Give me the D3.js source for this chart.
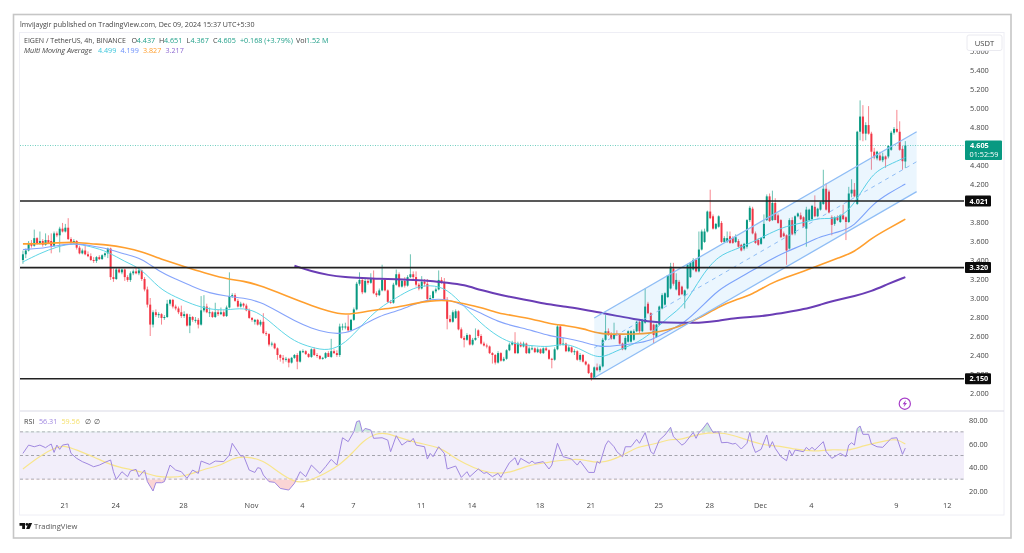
<!DOCTYPE html>
<html>
<head>
<meta charset="utf-8">
<title>EIGEN / TetherUS</title>
<script src="https://cdn.jsdelivr.net/npm/d3@7"></script>
<style>
    html, body { margin: 0; padding: 0; background: #fff; }
    svg { display: block; filter: blur(0.45px); font-family: "Open Sans", sans-serif; }
    .tick line, .domain { display: none; }
    .axis text { font-family: "Open Sans", sans-serif; font-size: 7.4px; fill: #444; }
</style>
</head>
<body>
<div id="chart"></div>
<script>
// 4h candles, one value per bar, first bar is Oct 18 13:30 (UTC+5:30)
var opens = [
    3.40,3.46,3.50,3.58,3.55,3.63,3.57,3.60,3.56,3.61,
    3.60,3.55,3.68,3.66,3.73,3.70,3.74,3.62,3.58,3.60,
    3.53,3.47,3.50,3.46,3.44,3.40,3.39,3.43,3.41,3.45,
    3.47,3.52,3.22,3.20,3.30,3.27,3.30,3.22,3.19,3.26,
    3.28,3.26,3.29,3.20,3.09,2.93,2.72,2.85,2.82,2.83,
    2.79,2.80,2.94,2.98,2.91,2.89,2.85,2.81,2.83,2.71,
    2.80,2.77,2.77,2.72,2.87,2.91,2.85,2.85,2.80,2.85,
    2.83,2.85,2.81,2.90,3.02,3.03,2.97,2.91,2.94,2.92,
    2.87,2.79,2.75,2.77,2.72,2.75,2.63,2.62,2.51,2.52,
    2.47,2.40,2.37,2.35,2.36,2.32,2.37,2.40,2.33,2.44,
    2.44,2.41,2.38,2.46,2.40,2.39,2.36,2.37,2.42,2.38,
    2.44,2.42,2.40,2.70,2.70,2.70,2.66,2.77,2.88,3.15,
    3.19,3.06,3.18,3.16,3.20,3.05,3.03,3.08,3.19,3.08,
    2.96,2.95,3.14,3.25,3.12,3.18,3.13,3.22,3.25,3.22,
    3.14,3.10,3.17,3.15,2.99,3.00,3.07,3.09,3.19,3.16,
    2.98,2.78,2.75,2.79,2.86,2.67,2.58,2.56,2.61,2.51,
    2.56,2.66,2.60,2.52,2.50,2.49,2.42,2.40,2.32,2.42,
    2.34,2.36,2.45,2.51,2.53,2.42,2.52,2.49,2.52,2.42,
    2.47,2.47,2.43,2.46,2.42,2.47,2.45,2.36,2.35,2.46,
    2.70,2.51,2.52,2.44,2.48,2.43,2.44,2.35,2.40,2.33,
    2.30,2.21,2.16,2.27,2.24,2.28,2.56,2.65,2.61,2.57,
    2.62,2.61,2.52,2.46,2.54,2.54,2.56,2.65,2.75,2.65,
    2.74,2.94,2.84,2.72,2.59,2.72,2.89,2.93,3.01,3.10,
    3.31,3.09,3.17,3.12,3.02,3.10,3.22,3.30,3.40,3.28,
    3.51,3.59,3.70,3.91,3.86,3.73,3.75,3.79,3.59,3.59,
    3.65,3.63,3.59,3.60,3.56,3.52,3.54,3.82,3.94,3.68,
    3.61,3.57,3.63,3.82,4.07,3.82,4.00,3.87,3.82,3.68,
    3.66,3.52,3.82,3.68,3.86,3.87,3.85,3.73,3.82,3.83,
    3.96,3.86,3.93,3.99,4.15,4.12,3.85,3.78,3.85,3.80,
    3.87,3.85,3.80,4.10,4.14,3.99,4.75,4.91,4.73,4.82,
    4.73,4.54,4.47,4.50,4.45,4.49,4.49,4.56,4.74,4.78,
    4.75,4.57,4.437
];
var highs = [
    3.50,3.52,3.60,3.61,3.72,3.64,3.70,3.62,3.68,3.66,
    3.68,3.70,3.70,3.75,3.79,3.78,3.84,3.64,3.62,3.61,
    3.55,3.52,3.55,3.49,3.47,3.43,3.44,3.45,3.46,3.48,
    3.53,3.53,3.31,3.32,3.32,3.31,3.31,3.24,3.28,3.30,
    3.32,3.32,3.30,3.22,3.12,3.00,2.87,2.88,2.85,2.84,
    2.82,2.98,2.99,2.99,2.93,2.91,2.92,2.86,2.84,2.83,
    2.81,2.80,2.79,3.02,3.03,2.94,2.90,2.86,2.95,2.88,
    2.90,2.87,2.92,3.27,3.05,3.05,2.99,2.96,2.95,2.94,
    2.89,2.80,2.78,2.78,2.77,2.84,2.65,2.63,2.54,2.53,
    2.48,2.41,2.40,2.38,2.37,2.38,2.41,2.42,2.45,2.46,
    2.45,2.42,2.47,2.48,2.42,2.40,2.38,2.43,2.44,2.57,
    2.46,2.45,2.73,2.73,2.74,2.82,2.78,2.90,3.17,3.27,
    3.21,3.20,3.20,3.26,3.29,3.07,3.10,3.35,3.21,3.09,
    2.98,3.16,3.30,3.27,3.20,3.22,3.24,3.46,3.28,3.28,
    3.16,3.23,3.20,3.20,3.03,3.08,3.11,3.29,3.22,3.21,
    3.01,2.82,2.87,2.88,2.87,2.69,2.60,2.63,2.62,2.58,
    2.68,2.67,2.62,2.54,2.52,2.50,2.43,2.41,2.44,2.43,
    2.38,2.46,2.53,2.55,2.64,2.54,2.54,2.54,2.53,2.49,
    2.50,2.48,2.48,2.47,2.48,2.49,2.46,2.37,2.48,2.72,
    2.71,2.58,2.53,2.50,2.49,2.46,2.45,2.42,2.41,2.34,
    2.31,2.22,2.28,2.31,2.30,2.58,2.82,2.68,2.64,2.74,
    2.66,2.62,2.53,2.60,2.66,2.66,2.67,2.76,2.77,2.78,
    3.10,2.96,2.85,2.73,2.73,2.92,3.05,3.06,3.24,3.37,
    3.37,3.26,3.19,3.13,3.09,3.36,3.37,3.42,3.42,3.70,
    3.72,3.73,3.92,4.14,3.88,3.79,3.87,3.81,3.65,3.70,
    3.70,3.65,3.67,3.62,3.57,3.58,3.83,3.97,3.96,3.70,
    3.63,3.64,3.88,4.09,4.10,4.13,4.05,3.89,3.83,3.70,
    3.67,3.84,3.85,3.87,3.90,3.90,3.86,3.96,3.94,3.98,
    4.08,3.95,4.02,4.35,4.21,4.14,3.87,3.86,3.87,3.88,
    3.98,3.86,4.17,4.25,4.21,4.76,5.08,5.03,4.85,5.02,
    4.75,4.58,4.55,4.54,4.53,4.50,4.61,4.76,4.80,4.98,
    4.86,4.60,4.651
];
var lows = [
    3.36,3.42,3.49,3.53,3.54,3.56,3.56,3.54,3.55,3.57,
    3.47,3.54,3.64,3.48,3.69,3.69,3.61,3.56,3.57,3.51,
    3.46,3.46,3.45,3.43,3.39,3.37,3.37,3.40,3.40,3.43,
    3.42,3.19,3.17,3.19,3.26,3.25,3.18,3.17,3.17,3.24,
    3.25,3.24,3.18,3.07,2.90,2.60,2.69,2.80,2.79,2.72,
    2.77,2.79,2.92,2.89,2.87,2.83,2.79,2.79,2.70,2.63,
    2.75,2.74,2.68,2.71,2.85,2.84,2.80,2.79,2.79,2.81,
    2.82,2.80,2.80,2.89,3.00,2.96,2.90,2.90,2.90,2.86,
    2.78,2.75,2.72,2.71,2.70,2.62,2.60,2.49,2.49,2.46,
    2.35,2.33,2.31,2.33,2.27,2.31,2.36,2.25,2.32,2.42,
    2.40,2.37,2.37,2.39,2.37,2.35,2.35,2.36,2.38,2.37,
    2.41,2.38,2.38,2.66,2.67,2.65,2.65,2.76,2.87,3.13,
    3.04,3.05,3.14,3.15,3.04,3.01,3.02,3.07,3.07,2.95,
    2.94,2.94,3.13,3.11,3.11,3.11,3.12,3.21,3.20,3.12,
    3.08,3.09,3.12,2.97,2.97,2.99,3.05,3.08,3.15,2.97,
    2.67,2.74,2.74,2.78,2.66,2.57,2.48,2.55,2.50,2.50,
    2.55,2.58,2.51,2.49,2.47,2.41,2.31,2.30,2.31,2.33,
    2.33,2.35,2.44,2.50,2.41,2.41,2.48,2.48,2.41,2.41,
    2.45,2.42,2.42,2.41,2.41,2.44,2.35,2.26,2.34,2.45,
    2.50,2.50,2.43,2.43,2.42,2.40,2.34,2.33,2.32,2.29,
    2.20,2.13,2.15,2.23,2.22,2.27,2.55,2.60,2.56,2.56,
    2.60,2.51,2.45,2.45,2.53,2.53,2.55,2.64,2.63,2.64,
    2.73,2.83,2.65,2.52,2.58,2.71,2.88,2.92,3.00,3.09,
    3.13,3.08,3.02,3.03,2.89,3.09,3.21,3.29,3.27,3.27,
    3.50,3.58,3.69,3.83,3.72,3.72,3.74,3.58,3.58,3.58,
    3.57,3.57,3.58,3.53,3.49,3.50,3.52,3.80,3.67,3.57,
    3.55,3.56,3.62,3.81,3.80,3.81,3.82,3.78,3.63,3.64,
    3.35,3.51,3.66,3.66,3.85,3.82,3.74,3.54,3.81,3.82,
    3.85,3.85,3.92,3.98,3.92,3.89,3.66,3.76,3.81,3.79,
    3.82,3.61,3.79,4.06,4.06,3.98,4.66,4.65,4.66,4.72,
    4.35,4.46,4.45,4.44,4.43,4.37,4.47,4.55,4.72,4.74,
    4.55,4.35,4.367
];
var closes = [
    3.46,3.50,3.58,3.55,3.63,3.57,3.60,3.56,3.61,3.58,
    3.55,3.68,3.66,3.73,3.70,3.74,3.62,3.58,3.60,3.53,
    3.47,3.50,3.46,3.44,3.40,3.39,3.43,3.41,3.45,3.47,
    3.52,3.22,3.20,3.30,3.27,3.30,3.22,3.19,3.26,3.28,
    3.26,3.29,3.20,3.09,2.93,2.72,2.85,2.82,2.83,2.79,
    2.80,2.94,2.98,2.91,2.89,2.85,2.81,2.83,2.71,2.80,
    2.77,2.77,2.72,2.87,2.91,2.85,2.85,2.80,2.85,2.83,
    2.85,2.81,2.90,3.02,3.03,2.97,2.91,2.94,2.92,2.87,
    2.79,2.77,2.77,2.72,2.75,2.63,2.62,2.51,2.52,2.47,
    2.40,2.37,2.35,2.36,2.32,2.37,2.40,2.33,2.44,2.44,
    2.41,2.38,2.46,2.40,2.39,2.36,2.37,2.42,2.38,2.44,
    2.42,2.40,2.70,2.70,2.70,2.66,2.77,2.88,3.15,3.19,
    3.06,3.18,3.16,3.20,3.05,3.03,3.08,3.19,3.08,2.96,
    2.95,3.14,3.25,3.12,3.18,3.13,3.22,3.25,3.22,3.14,
    3.10,3.17,3.15,2.99,3.00,3.07,3.09,3.19,3.16,2.98,
    2.78,2.75,2.85,2.86,2.67,2.58,2.56,2.61,2.51,2.56,
    2.58,2.60,2.52,2.50,2.49,2.42,2.40,2.32,2.42,2.34,
    2.36,2.45,2.51,2.53,2.42,2.52,2.49,2.52,2.42,2.47,
    2.47,2.43,2.46,2.42,2.47,2.45,2.36,2.35,2.46,2.70,
    2.51,2.52,2.44,2.48,2.43,2.44,2.35,2.40,2.33,2.30,
    2.21,2.16,2.27,2.24,2.28,2.56,2.65,2.61,2.57,2.62,
    2.61,2.52,2.46,2.58,2.65,2.65,2.65,2.75,2.65,2.76,
    2.91,2.84,2.66,2.61,2.72,2.91,3.03,3.05,3.24,3.33,
    3.15,3.19,3.03,3.04,3.08,3.35,3.37,3.40,3.28,3.51,
    3.70,3.70,3.91,3.84,3.73,3.78,3.86,3.59,3.63,3.63,
    3.58,3.58,3.64,3.54,3.50,3.57,3.82,3.95,3.68,3.58,
    3.56,3.63,3.78,4.07,3.81,4.00,3.82,3.79,3.64,3.65,
    3.50,3.82,3.67,3.86,3.89,3.83,3.75,3.93,3.93,3.97,
    3.86,3.94,4.01,4.15,3.93,3.90,3.77,3.85,3.82,3.87,
    3.83,3.80,4.10,4.14,4.07,4.75,4.91,4.73,4.82,4.73,
    4.54,4.48,4.54,4.45,4.49,4.46,4.60,4.74,4.78,4.75,
    4.56,4.44,4.605
];

// moving averages, read once a day (every 6th bar)
var maFast = [3.38,3.47,3.54,3.58,3.54,3.49,3.38,3.31,3.10,3.01,2.93,2.88,2.87,2.90,2.84,2.68,2.54,2.48,2.44,2.52,2.72,2.90,3.00,3.11,3.14,3.10,2.91,2.73,2.59,2.51,2.50,2.48,2.53,2.45,2.35,2.45,2.51,2.62,2.80,2.92,3.24,3.45,3.51,3.59,3.68,3.76,3.79,3.85,3.82,3.98,4.31,4.40,4.48];
var maMid = [3.51,3.52,3.55,3.58,3.55,3.52,3.46,3.42,3.28,3.20,3.12,3.05,3.02,3.00,2.96,2.86,2.76,2.68,2.63,2.62,2.71,2.81,2.86,2.93,2.99,2.99,2.92,2.84,2.75,2.70,2.66,2.60,2.58,2.54,2.48,2.50,2.52,2.55,2.65,2.74,2.91,3.09,3.19,3.29,3.40,3.49,3.56,3.65,3.69,3.75,3.98,4.10,4.20];
var maSlow = [3.57,3.57,3.58,3.59,3.57,3.56,3.53,3.49,3.42,3.36,3.30,3.25,3.20,3.18,3.13,3.06,2.99,2.92,2.86,2.82,2.85,2.88,2.90,2.94,2.97,2.98,2.94,2.90,2.84,2.81,2.78,2.73,2.71,2.68,2.62,2.62,2.62,2.63,2.66,2.72,2.80,2.91,2.98,3.04,3.15,3.22,3.28,3.35,3.42,3.48,3.63,3.73,3.83];
var maLong = [3.34,3.28,3.24,3.22,3.21,3.20,3.20,3.19,3.18,3.16,3.14,3.08,3.04,3.00,2.97,2.93,2.91,2.88,2.85,2.81,2.78,2.75,2.74,2.74,2.74,2.76,2.79,2.80,2.82,2.85,2.88,2.93,2.98,3.02,3.07,3.15,3.22];
var maLongFirstDay = 16;

// support / resistance lines and the parallel channel
var levels = [4.021, 3.320, 2.150];
var lastPrice = 4.605;
var countdown = "01:52:59";
var channelBars = [202, 316];
var channelTop = [2.79, 4.75];
var channelMiddle = [2.475, 4.435];
var channelBottom = [2.16, 4.12];

// RSI line, bar number + value of each turning point
var rsiBars = [
    0,2,4,6,8,9,10,11,12,13,14,16,17,19,21,23,
    25,27,29,31,32,33,35,37,38,40,41,43,44,46,47,49,
    50,52,54,56,57,58,60,62,63,66,68,71,73,74,76,77,
    78,80,82,83,84,85,87,89,91,94,96,98,100,102,105,107,
    109,111,113,115,117,118,119,120,121,123,124,127,129,130,132,134,
    136,137,138,139,142,143,144,145,147,149,150,153,155,157,158,161,
    163,164,166,168,169,172,174,175,176,179,180,181,184,186,187,189,
    191,194,196,197,200,202,203,204,206,207,209,210,212,213,215,217,
    218,220,222,223,225,227,229,230,233,234,237,238,239,240,242,244,
    246,247,249,251,252,254,256,257,258,259,261,263,264,265,266,268,
    270,271,272,273,276,277,278,279,280,283,284,286,289,291,292,293,
    294,295,296,297,299,300,302,304,307,309,311,312
];
var rsiValues = [
    51.8,58.8,57.4,58.8,56.6,58.3,59.7,52.6,58.8,55.2,58.8,59.7,51.8,47.6,44.8,42.8,
    40.5,41.9,44.2,46.2,36.3,29.8,36.3,32.1,36.9,38.3,32.1,37.7,27.9,20,27,27,
    27.9,41.9,37.7,36.3,33.5,30.7,37.7,34.9,45.3,42.5,45.3,44.8,50.4,60.3,53.2,49.5,
    49.8,37.7,35.7,39.7,39.1,33.5,27.9,27.3,22.2,20.8,26.5,36.3,32.1,41.9,34.9,40.5,
    46.7,41.9,65,61.7,70.1,78.6,79.4,70.1,72.9,71.5,64.5,65,63,53.2,66.7,58.8,
    62.2,61.7,64.5,58.8,57.4,47,51.8,49,57.4,51.8,38.6,41.1,31.5,36.3,32.1,38.6,
    34.9,35.7,32.1,34.9,31.5,43.9,48.1,41.9,47.6,43.4,45.3,43.4,44.8,38.6,41.9,60.3,
    49,47,41.9,45.3,35.7,35.7,44.8,43.4,58.8,62.5,57.4,53.2,49,57.4,57.4,63.6,
    60.3,69.3,53.2,51.2,63,67.3,73.8,65.9,58.8,60.3,69.5,64.5,69.5,71.5,77.7,69.5,
    70.1,60.8,61.1,59.7,60.3,55.5,60.3,69.5,58.8,52.6,55.2,67.3,56.6,61.7,56,49,
    45.6,54.6,49.8,54.6,53.2,56.9,54.6,56.9,54.6,61.7,53.2,47.6,51.8,49,58.8,60.8,
    58.8,72.9,74.9,67.9,67.9,59.7,57.4,56.9,64.5,65,51,56.3
];
var rsiMaBars = [0,6,12,15,19,25,31,37,43,47,52,57,64,70,74,78,85,90,96,100,107,112,117,120,125,129,132,139,148,151,156,162,168,174,179,185,189,195,199,204,212,217,222,230,232,237,242,248,254,261,268,273,280,286,292,297,306,309,312];
var rsiMaValues = [38.6,49.8,57.4,58.3,54.6,49,41.9,38.6,35.7,32.1,31.5,32.1,38.6,41.4,47.6,49.5,46.2,36.3,27.3,27.3,34.9,41.9,53.2,61.7,69.3,68.7,65.9,60.8,56.6,50.4,43.4,36.9,34.1,36.9,41.9,43.9,45.6,47,46.2,42.8,49.5,57.4,58.8,64.5,63,66.7,69.3,69.3,65,58.8,58,55.2,53.2,55.5,53.8,58.3,63.1,63.9,59.7];
var rsiLevels = [70, 50, 30];

// axis ticks
var priceTicks = [5.6,5.4,5.2,5.0,4.8,4.4,4.2,3.8,3.6,3.4,3.2,3.0,2.8,2.6,2.4,2.2,2.0];
var rsiTicks = [80, 60, 40, 20];
var timeTickDates = ["2024-10-21","2024-10-24","2024-10-28","2024-11-01","2024-11-04","2024-11-07","2024-11-11","2024-11-14","2024-11-18","2024-11-21","2024-11-25","2024-11-28","2024-12-01","2024-12-04","2024-12-09","2024-12-12"];
var timeTickLabels = ["21","24","28","Nov","4","7","11","14","18","21","25","28","Dec","4","9","12"];

var upColor = "#089981", downColor = "#f23645";
var fastColor = "#5fd6e6", midColor = "#86a4fb", slowColor = "#ff9f2e", longColor = "#6a3db5";
var rsiColor = "#a088e0", rsiMaColor = "#f8e58c";

var width = 1024, height = 553;
var plot = {left: 20, right: 964, top: 33, bottom: 411};

var svg = d3.select("#chart").append("svg")
    .attr("width", width)
    .attr("height", height);

var defs = svg.append("defs");
defs.append("clipPath").attr("id", "plotClip").append("rect")
    .attr("x", plot.left).attr("y", plot.top)
    .attr("width", plot.right - plot.left).attr("height", plot.bottom - plot.top);
defs.append("clipPath").attr("id", "rsiLow").append("rect")
    .attr("x", plot.left).attr("y", 479.3)
    .attr("width", plot.right - plot.left).attr("height", 20);
defs.append("clipPath").attr("id", "rsiHigh").append("rect")
    .attr("x", plot.left).attr("y", 412)
    .attr("width", plot.right - plot.left).attr("height", 20.3);

// scales
var xTime = d3.scaleUtc()
    .domain([new Date(Date.UTC(2024, 9, 21)), new Date(Date.UTC(2024, 11, 12))])
    .range([64.3, 946.7]);
var firstBar = Date.UTC(2024, 9, 18, 13, 30);
function barX(i) {
    return xTime(new Date(firstBar + i * 4 * 3600 * 1000));
}
var yPrice = d3.scaleLinear().domain([5.4, 2.0]).range([70, 393]);
var yRsi = d3.scaleLinear().domain([80, 20]).range([420, 491]);

// frames
svg.append("rect")
    .attr("x", 13.5).attr("y", 14.5).attr("width", 997.5).attr("height", 523.5)
    .attr("fill", "#fff").attr("stroke", "#c6c6c6").attr("stroke-width", 1.6);
svg.append("rect")
    .attr("x", 19.5).attr("y", 32.5).attr("width", 984.5).attr("height", 482.5)
    .attr("fill", "#fff").attr("stroke", "#eeeef5");
svg.append("line")
    .attr("x1", 20).attr("x2", 1004).attr("y1", 411).attr("y2", 411)
    .attr("stroke", "#d9d9e6").attr("stroke-width", 1.2);

// price axis goes first, the tags and the USDT button sit on top of it
var priceAxis = d3.axisRight(yPrice)
    .tickValues(priceTicks)
    .tickSize(0)
    .tickPadding(0)
    .tickFormat(d3.format(".3f"));
svg.append("g").attr("class", "axis")
    .attr("transform", "translate(970,0)")
    .call(priceAxis);

var chartG = svg.append("g").attr("clip-path", "url(#plotClip)");

// last price dotted line
chartG.append("line")
    .attr("x1", plot.left).attr("x2", plot.right)
    .attr("y1", yPrice(lastPrice)).attr("y2", yPrice(lastPrice))
    .attr("stroke", "#6fcfbf").attr("stroke-dasharray", "1,1.5");

// candles
var candles = d3.range(closes.length);
var candleG = chartG.append("g").attr("class", "candleG");
candleG.selectAll("line").data(candles)
    .enter()
    .append("line")
    .attr("x1", function(d) { return barX(d); })
    .attr("x2", function(d) { return barX(d); })
    .attr("y1", function(d) { return yPrice(highs[d]); })
    .attr("y2", function(d) { return yPrice(lows[d]); })
    .attr("stroke", function(d) { return closes[d] >= opens[d] ? upColor : downColor; })
    .attr("stroke-opacity", 0.6)
    .attr("stroke-width", 1);
candleG.selectAll("rect").data(candles)
    .enter()
    .append("rect")
    .attr("x", function(d) { return barX(d) - 1; })
    .attr("width", 2)
    .attr("y", function(d) { return yPrice(Math.max(opens[d], closes[d])); })
    .attr("height", function(d) { return Math.max(1, Math.abs(yPrice(opens[d]) - yPrice(closes[d]))); })
    .attr("fill", function(d) { return closes[d] >= opens[d] ? upColor : downColor; });

// moving averages
var maLine = d3.line()
    .x(function(d) { return barX(d.bar); })
    .y(function(d) { return yPrice(d.value); })
    .curve(d3.curveBasis);
function daily(values, firstDay) {
    return values.map(function(v, i) { return {bar: (firstDay + i) * 6, value: v}; });
}
var maSeries = [
    {values: daily(maFast, 0), color: fastColor, w: 1},
    {values: daily(maMid, 0), color: midColor, w: 1.1},
    {values: daily(maSlow, 0), color: slowColor, w: 1.6},
    {values: daily(maLong, maLongFirstDay), color: longColor, w: 2}
];
chartG.selectAll(".ma").data(maSeries)
    .enter()
    .append("path")
    .attr("class", "ma")
    .attr("fill", "none")
    .attr("stroke", function(d) { return d.color; })
    .attr("stroke-width", function(d) { return d.w; })
    .attr("d", function(d) { return maLine(d.values); });

// channel
var channelPts = channelBars.map(function(b, i) {
    return {bar: b, top: channelTop[i], mid: channelMiddle[i], bottom: channelBottom[i]};
});
chartG.append("path")
    .attr("d", d3.area()
        .x(function(d) { return barX(d.bar); })
        .y0(function(d) { return yPrice(d.bottom); })
        .y1(function(d) { return yPrice(d.top); })(channelPts))
    .attr("fill", "#2196f3")
    .attr("fill-opacity", 0.09);
["top", "mid", "bottom"].forEach(function(k) {
    chartG.append("path")
        .attr("d", d3.line()
            .x(function(d) { return barX(d.bar); })
            .y(function(d) { return yPrice(d[k]); })(channelPts))
        .attr("fill", "none")
        .attr("stroke", "#8fbdf5")
        .attr("stroke-width", k == "mid" ? 1 : 1.3)
        .attr("stroke-dasharray", k == "mid" ? "4,4" : null);
});

// horizontal levels
chartG.selectAll(".level").data(levels)
    .enter()
    .append("line")
    .attr("class", "level")
    .attr("x1", plot.left).attr("x2", plot.right)
    .attr("y1", function(d) { return yPrice(d); })
    .attr("y2", function(d) { return yPrice(d); })
    .attr("stroke", "#222")
    .attr("stroke-width", 1.6);

// price tags
var tags = svg.selectAll(".levelTag").data(levels)
    .enter()
    .append("g")
    .attr("class", "levelTag")
    .attr("transform", function(d) { return "translate(965," + yPrice(d) + ")"; });
tags.append("rect")
    .attr("y", -5.5).attr("width", 26).attr("height", 11).attr("rx", 1)
    .attr("fill", "#0b0b0b");
tags.append("text")
    .attr("x", 4.5).attr("y", 2.7)
    .attr("font-size", 7.3).attr("font-weight", 700).attr("fill", "#fff")
    .text(function(d) { return d3.format(".3f")(d); });

var lastTag = svg.append("g").attr("transform", "translate(965," + yPrice(lastPrice) + ")");
lastTag.append("rect")
    .attr("y", -5).attr("width", 37).attr("height", 19.5).attr("rx", 1)
    .attr("fill", upColor);
lastTag.append("text")
    .attr("x", 5).attr("y", 2.8)
    .attr("font-size", 7.3).attr("font-weight", 700).attr("fill", "#fff")
    .text(d3.format(".3f")(lastPrice));
lastTag.append("text")
    .attr("x", 4.5).attr("y", 11.8)
    .attr("font-size", 7.3).attr("fill", "#fff")
    .text(countdown);

// USDT button
svg.append("rect")
    .attr("x", 967).attr("y", 35).attr("width", 35).attr("height", 15.5).attr("rx", 2)
    .attr("fill", "#fff").attr("stroke", "#eaeaf0");
svg.append("text")
    .attr("x", 984.5).attr("y", 45.5)
    .attr("text-anchor", "middle").attr("font-size", 7.6).attr("fill", "#444")
    .text("USDT");

// lightning icon
var bolt = svg.append("g").attr("transform", "translate(904.8,403.7)");
bolt.append("circle").attr("r", 5.6).attr("fill", "#fff").attr("stroke", "#a63cc8").attr("stroke-width", 1.2);
bolt.append("path").attr("d", "M1.2,-3.6 L-2.2,0.6 L-0.2,0.6 L-1.2,3.6 L2.2,-0.6 L0.2,-0.6 Z").attr("fill", "#a63cc8");

// RSI panel
var rsiG = svg.append("g");
rsiG.append("rect")
    .attr("x", plot.left).attr("width", plot.right - plot.left)
    .attr("y", yRsi(70)).attr("height", yRsi(30) - yRsi(70))
    .attr("fill", "#f2eefa");
rsiG.selectAll(".rsiLevel").data(rsiLevels)
    .enter()
    .append("line")
    .attr("class", "rsiLevel")
    .attr("x1", plot.left).attr("x2", plot.right)
    .attr("y1", function(d) { return yRsi(d); })
    .attr("y2", function(d) { return yRsi(d); })
    .attr("stroke", "#a4a4ac")
    .attr("stroke-dasharray", "3,2.5");

var rsiPts = rsiBars.map(function(b, i) { return {bar: b, value: rsiValues[i]}; });
var rsiMaPts = rsiMaBars.map(function(b, i) { return {bar: b, value: rsiMaValues[i]}; });
function rsiArea(level) {
    return d3.area()
        .x(function(d) { return barX(d.bar); })
        .y0(yRsi(level))
        .y1(function(d) { return yRsi(d.value); })(rsiPts);
}
rsiG.append("path").attr("d", rsiArea(30)).attr("clip-path", "url(#rsiLow)").attr("fill", "#fbd5d5");
rsiG.append("path").attr("d", rsiArea(70)).attr("clip-path", "url(#rsiHigh)").attr("fill", "#cfeadf");
rsiG.append("path")
    .attr("d", d3.line()
        .x(function(d) { return barX(d.bar); })
        .y(function(d) { return yRsi(d.value); })
        .curve(d3.curveBasis)(rsiMaPts))
    .attr("fill", "none").attr("stroke", rsiMaColor).attr("stroke-width", 1.2);
rsiG.append("path")
    .attr("d", d3.line()
        .x(function(d) { return barX(d.bar); })
        .y(function(d) { return yRsi(d.value); })(rsiPts))
    .attr("fill", "none").attr("stroke", rsiColor).attr("stroke-width", 1);

var rsiAxis = d3.axisRight(yRsi)
    .tickValues(rsiTicks)
    .tickSize(0)
    .tickPadding(0)
    .tickFormat(d3.format(".2f"));
svg.append("g").attr("class", "axis")
    .attr("transform", "translate(969,0)")
    .call(rsiAxis);

// time axis
var timeAxis = d3.axisBottom(xTime)
    .tickValues(timeTickDates.map(function(d) { return new Date(d + "T00:00:00Z"); }))
    .tickSize(0)
    .tickPadding(0)
    .tickFormat(function(d, i) { return timeTickLabels[i]; });
svg.append("g").attr("class", "axis")
    .attr("transform", "translate(0,503)")
    .call(timeAxis);

// legend rows, x positions follow the reference
function legendRow(y, items) {
    items.forEach(function(t) {
        svg.append("text")
            .attr("x", t.x).attr("y", y)
            .attr("font-size", t.size || 7.2)
            .attr("font-style", t.italic ? "italic" : null)
            .attr("fill", t.color)
            .text(t.text);
    });
}
var grey = "#444", teal = "#22a08a";
legendRow(26.5, [{x: 20, text: "lmvijaygir published on TradingView.com, Dec 09, 2024 15:37 UTC+5:30", color: grey, size: 7.1}]);
legendRow(43.3, [
    {x: 24, text: "EIGEN / TetherUS, 4h, BINANCE", color: grey, size: 7},
    {x: 131.5, text: "O", color: grey}, {x: 136.8, text: "4.437", color: teal},
    {x: 159, text: "H", color: grey}, {x: 164, text: "4.651", color: teal},
    {x: 186.5, text: "L", color: grey}, {x: 190.5, text: "4.367", color: teal},
    {x: 213, text: "C", color: grey}, {x: 217.5, text: "4.605", color: teal},
    {x: 240, text: "+0.168 (+3.79%)", color: teal},
    {x: 296, text: "Vol", color: grey}, {x: 306, text: "1.52 M", color: teal}
]);
legendRow(53.3, [
    {x: 24, text: "Multi Moving Average", color: grey, italic: true},
    {x: 98, text: "4.499", color: "#3cc6dc"},
    {x: 120.5, text: "4.199", color: "#6a8ffb"},
    {x: 143, text: "3.827", color: slowColor},
    {x: 165.5, text: "3.217", color: "#8c68d0"}
]);
legendRow(423.5, [
    {x: 24, text: "RSI", color: grey},
    {x: 39, text: "56.31", color: rsiColor},
    {x: 61.5, text: "59.56", color: "#f5e16e"},
    {x: 84.5, text: "∅", color: grey},
    {x: 93.5, text: "∅", color: grey}
]);

// TradingView footer
var logo = svg.append("g").attr("transform", "translate(19.5,523)").attr("fill", "#111");
logo.append("path").attr("d", "M0,0 H5.5 V6 H2.7 V2.7 H0 Z");
logo.append("circle").attr("cx", 7.4).attr("cy", 1.4).attr("r", 1.4);
logo.append("path").attr("d", "M9.2,0 H12.6 L10,6 H6.6 Z");
svg.append("text")
    .attr("x", 34).attr("y", 529.3)
    .attr("font-size", 7.6).attr("fill", "#555")
    .text("TradingView");
</script>
</body>
</html>
